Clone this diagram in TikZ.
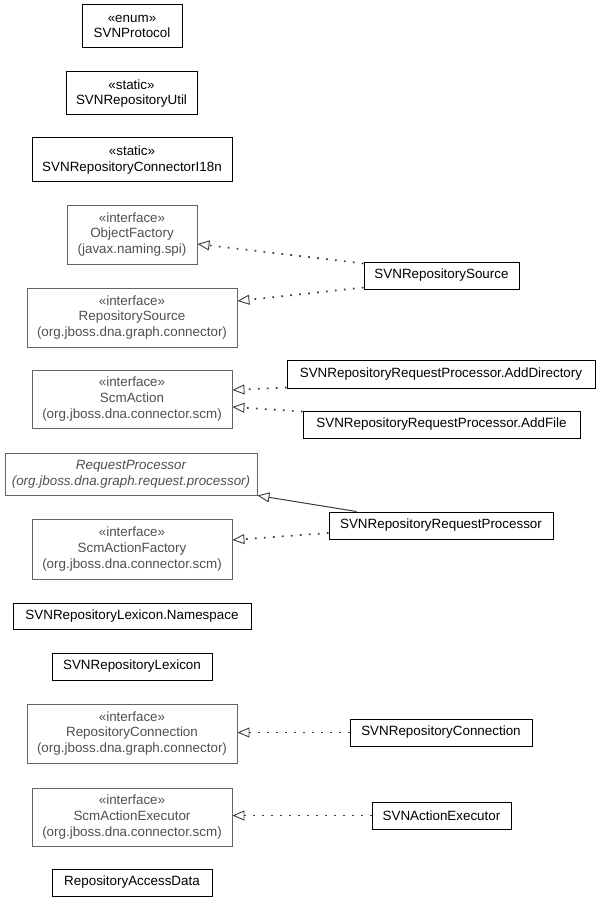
\documentclass[tikz,border=0pt]{standalone}
\usepackage{fontspec}
\setmainfont{Liberation Sans}
\usetikzlibrary{arrows.meta}
\definecolor{ifgray}{RGB}{80,80,80}
\definecolor{ifborder}{RGB}{100,100,100}
\definecolor{edgecol}{RGB}{60,60,60}
\begin{document}
\begin{tikzpicture}[x=1pt,y=-1pt,
  every node/.style={font=\fontsize{13.4}{15.8}\selectfont, align=center, inner sep=0pt},
  cls/.style={draw=black, line width=1pt, text=black, rectangle},
  iface/.style={draw=ifborder, line width=0.9pt, text=ifgray, rectangle},
  realize/.style={draw=edgecol, line width=1.7pt, dash pattern=on 1.7pt off 7.3pt, -{Triangle[open,length=12pt,width=10pt,line width=0.9pt]}},
  inherit/.style={draw=edgecol, line width=1pt, -{Triangle[open,length=12pt,width=10pt,line width=0.9pt]}}]
\path[use as bounding box, fill=white] (0,0) rectangle (600,901);

\node[cls, minimum width=100, minimum height=43] (proto) at (132,26.5) {«enum»\\SVNProtocol};
\node[cls, minimum width=131, minimum height=43] (util) at (131.5,93.5) {«static»\\SVNRepositoryUtil};
\node[cls, minimum width=200, minimum height=44] (i18n) at (132,160) {«static»\\SVNRepositoryConnectorI18n};
\node[iface, minimum width=130, minimum height=59] (objf) at (132,234.5) {«interface»\\ObjectFactory\\(javax.naming.spi)};
\node[iface, minimum width=210, minimum height=59] (rsrc) at (132,317.5) {«interface»\\RepositorySource\\(org.jboss.dna.graph.connector)};
\node[cls, minimum width=155, minimum height=27] (svnsrc) at (441.5,275.5) {SVNRepositorySource};
\node[iface, minimum width=200, minimum height=58] (scma) at (132,399) {«interface»\\ScmAction\\(org.jboss.dna.connector.scm)};
\node[iface, minimum width=252, minimum height=42, font=\fontsize{13.4}{15.8}\selectfont\itshape] (reqp) at (131,474) {RequestProcessor\\(org.jboss.dna.graph.request.processor)};
\node[cls, minimum width=308, minimum height=28] (adddir) at (441,374) {SVNRepositoryRequestProcessor.AddDirectory};
\node[cls, minimum width=277, minimum height=27] (addfile) at (441.5,424.5) {SVNRepositoryRequestProcessor.AddFile};
\node[cls, minimum width=224, minimum height=27] (srp) at (441,525.5) {SVNRepositoryRequestProcessor};
\node[iface, minimum width=200, minimum height=60] (scmaf) at (132,549) {«interface»\\ScmActionFactory\\(org.jboss.dna.connector.scm)};
\node[cls, minimum width=238, minimum height=26] (ns) at (132,616) {SVNRepositoryLexicon.Namespace};
\node[cls, minimum width=160, minimum height=27] (lex) at (132,666.5) {SVNRepositoryLexicon};
\node[iface, minimum width=210, minimum height=59] (rconn) at (132,733.5) {«interface»\\RepositoryConnection\\(org.jboss.dna.graph.connector)};
\node[iface, minimum width=200, minimum height=58] (scmae) at (132,817) {«interface»\\ScmActionExecutor\\(org.jboss.dna.connector.scm)};
\node[cls, minimum width=160, minimum height=27] (rad) at (132,882.5) {RepositoryAccessData};
\node[cls, minimum width=182, minimum height=27] (svnconn) at (441,732.5) {SVNRepositoryConnection};
\node[cls, minimum width=139, minimum height=27] (svnexec) at (441.5,815.5) {SVNActionExecutor};

\draw[realize] ([yshift=-2pt]svnsrc.north west) -- ([yshift=-9.5pt]objf.east);
\draw[realize] ([yshift=2pt]svnsrc.south west) -- ([yshift=16.5pt]rsrc.east);
\draw[realize] ([yshift=1pt]adddir.south west) -- ([yshift=9pt]scma.east);
\draw[realize] ([yshift=-1pt]addfile.north west) -- ([yshift=-8pt]scma.east);
\draw[inherit] ([xshift=28pt]srp.north west) -- (reqp.south east);
\draw[realize] ([yshift=-7.5pt]srp.west) -- ([yshift=9pt]scmaf.east);
\draw[realize] (svnconn.west) -- (svnconn.west -| rconn.east);
\draw[realize] (svnexec.west) -- (svnexec.west -| scmae.east);
\end{tikzpicture}
\end{document}
